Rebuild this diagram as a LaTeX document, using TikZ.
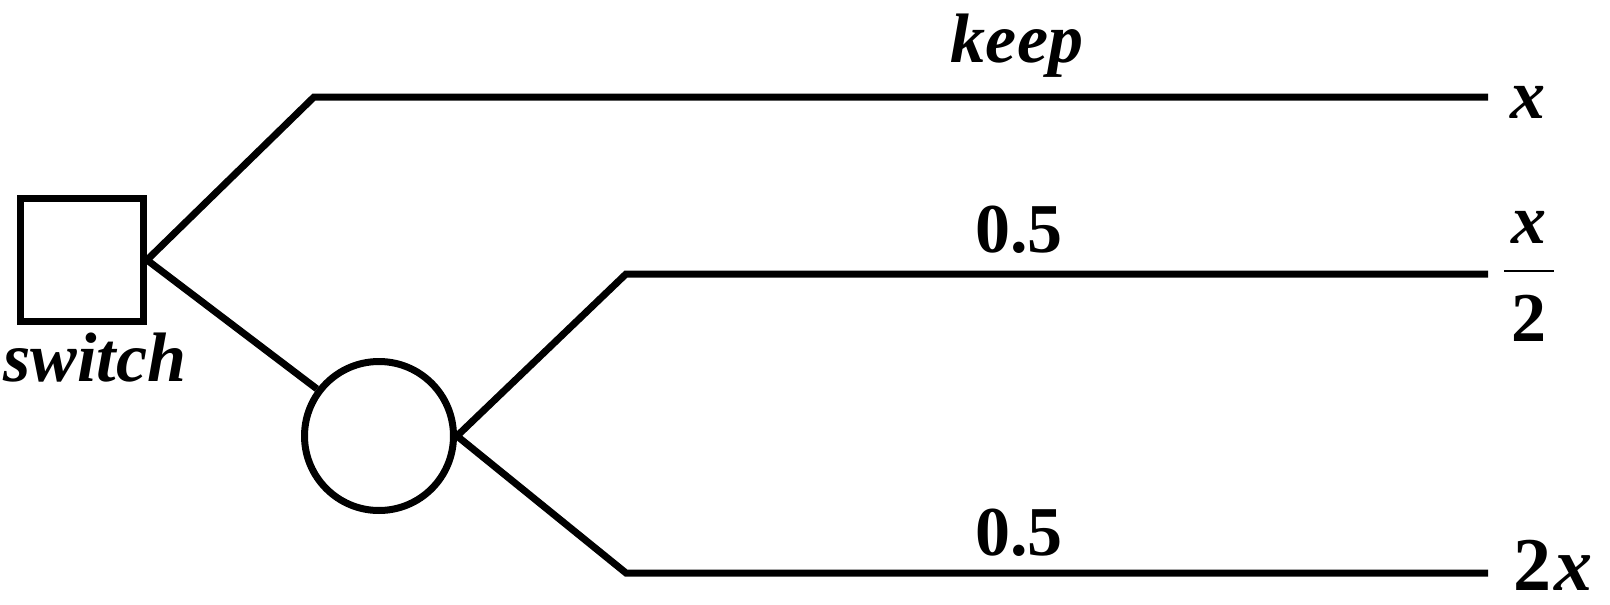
\documentclass[tikz,border=0pt]{standalone}
\usepackage{fontspec}
\setmainfont{Liberation Serif}[BoldFont={Liberation Serif Bold}, ItalicFont={Liberation Serif Italic}, BoldItalicFont={Liberation Serif Bold Italic}]
\begin{document}
\begin{tikzpicture}[x=1pt,y=-1pt,
  edge/.style={line width=7pt},
  lbl/.style={font=\fontsize{70}{84}\selectfont\bfseries\itshape, inner sep=0pt},
  num/.style={font=\fontsize{70}{84}\selectfont\bfseries, inner sep=0pt},
  decision/.style={draw, line width=7pt, rectangle, minimum size=123pt, inner sep=0pt},
  chance/.style={draw, line width=7pt, circle, minimum size=149pt, inner sep=0pt}]
\useasboundingbox (0,0) rectangle (1610,605);
\node[decision] (sw) at (82,260) {};
\node[lbl, anchor=base] (swl) at (95,381) {switch};
\node[chance] (ch) at (379,436) {};
\coordinate (k1) at (314,97);
\coordinate (k2) at (1488,97);
\coordinate (c1) at (626,274);
\coordinate (c2) at (1488,274);
\coordinate (d1) at (626,573);
\coordinate (d2) at (1488,573);
\draw[edge] (sw.east) -- (k1) -- (k2);
\draw[edge] (sw.east) -- (ch);
\draw[edge] (ch.east) -- (c1) -- (c2);
\draw[edge] (ch.east) -- (d1) -- (d2);
\node[lbl, anchor=base] (keep) at (1017,62) {keep};
\node[num, anchor=base] (p1) at (1019,252) {0.5};
\node[num, anchor=base] (p2) at (1019,555) {0.5};
\node[lbl, anchor=base] (t1) at (1528,118) {x};
\node[lbl, anchor=base] (t2n) at (1529,243) {x};
\node[num, anchor=base] (t2d) at (1529,341) {2};
\draw[line width=2pt] (1504,271) -- (1554,271);
\node[anchor=base, inner sep=0pt] (t3) at (1553,590) {\fontsize{76}{90}\selectfont\bfseries 2\kern3pt\itshape x};
\end{tikzpicture}
\end{document}
